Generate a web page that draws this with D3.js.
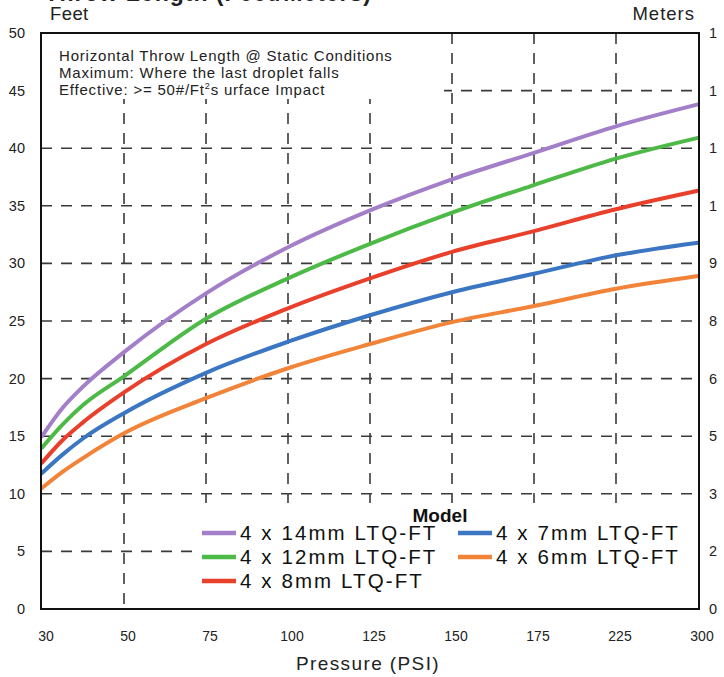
<!DOCTYPE html>
<html>
<head>
<meta charset="utf-8">
<script src="https://cdn.jsdelivr.net/npm/d3@7"></script>
<style>
body { margin: 0; background: #fff; }
svg { font-family: "Liberation Sans", Arial, sans-serif; }
</style>
</head>
<body>
<div id="chart"></div>
<script>
// pressure ticks (PSI) shown on the bottom axis, equally spaced
const psiTicks = [30, 50, 75, 100, 125, 150, 175, 225, 300]
const feetTicks = [0, 5, 10, 15, 20, 25, 30, 35, 40, 45, 50]
const meterLabels = ["0", "2", "3", "5", "6", "8", "9", "11", "12", "14", "15"]

// throw length in feet, read at these pressures
const psi = [30, 35, 40, 50, 75, 100, 125, 150, 175, 225, 300]
const ft14mm = [15.0, 17.45, 19.3, 22.3, 27.4, 31.4, 34.6, 37.3, 39.6, 41.9, 43.8]
const ft12mm = [14.0, 16.0, 17.7, 20.2, 25.2, 28.7, 31.7, 34.4, 36.8, 39.1, 40.9]
const ft8mm = [12.7, 14.65, 16.2, 18.8, 23.0, 26.1, 28.7, 31.0, 32.8, 34.7, 36.3]
const ft7mm = [11.8, 13.4, 14.8, 17.0, 20.5, 23.2, 25.5, 27.5, 29.1, 30.7, 31.8]
const ft6mm = [10.5, 11.9, 13.1, 15.25, 18.3, 20.9, 23.0, 24.9, 26.3, 27.8, 28.9]

const seriesNames = ["4 x 14mm LTQ-FT", "4 x 12mm LTQ-FT", "4 x 8mm LTQ-FT", "4 x 7mm LTQ-FT", "4 x 6mm LTQ-FT"]
const seriesValues = [ft14mm, ft12mm, ft8mm, ft7mm, ft6mm]
const seriesColors = ["#a27fc8", "#4dba47", "#e8402b", "#3b76c3", "#f2843a"]

const W = 724, H = 677
const pLeft = 41, pRight = 699, pTop = 33, pBottom = 609

const svg = d3.select("#chart").append("svg")
	.attr("width", W)
	.attr("height", H)

const step = (pRight - 1 - (pLeft + 1)) / (psiTicks.length - 1)
const x = d3.scaleLinear()
	.domain(psiTicks)
	.range(psiTicks.map((d, i) => pLeft + 1 + i * step))

const y = d3.scaleLinear()
	.domain([0, 50])
	.range([pBottom, pTop])

svg.append("clipPath").attr("id", "plot")
	.append("rect")
	.attr("x", pLeft).attr("y", pTop)
	.attr("width", pRight - pLeft).attr("height", pBottom - pTop)

svg.append("clipPath").attr("id", "page")
	.append("rect")
	.attr("x", 0).attr("y", 0)
	.attr("width", 717).attr("height", H)

// grid
const grid = svg.append("g")
	.attr("stroke", "#3a3a3a")
	.attr("stroke-width", 1.6)
	.attr("stroke-dasharray", "11,9")

grid.selectAll(".hgrid")
	.data(feetTicks.filter(d => d > 0 && d < 50))
	.join("line")
	.attr("class", "hgrid")
	.attr("x1", pLeft).attr("x2", pRight)
	.attr("y1", d => y(d)).attr("y2", d => y(d))

grid.selectAll(".vgrid")
	.data(psiTicks.filter(d => d > 30 && d < 300))
	.join("line")
	.attr("class", "vgrid")
	.attr("x1", d => x(d)).attr("x2", d => x(d))
	.attr("y1", pTop).attr("y2", pBottom)

// white boxes behind the note and the legend
svg.append("rect")
	.attr("x", pLeft + 1).attr("y", pTop + 1)
	.attr("width", 402).attr("height", 65)
	.attr("fill", "#fff")

svg.append("rect")
	.attr("x", 195).attr("y", 503)
	.attr("width", pRight - 196).attr("height", pBottom - 504)
	.attr("fill", "#fff")

// curves
const line = d3.line()
	.x((d, i) => x(psi[i]))
	.y(d => y(d))
	.curve(d3.curveMonotoneX)

svg.append("g")
	.attr("clip-path", "url(#plot)")
	.selectAll("path")
	.data(seriesValues)
	.join("path")
	.attr("fill", "none")
	.attr("stroke", (d, i) => seriesColors[i])
	.attr("stroke-width", 4)
	.attr("stroke-linecap", "round")
	.attr("d", line)

// frame
svg.append("rect")
	.attr("x", pLeft).attr("y", pTop)
	.attr("width", pRight - pLeft).attr("height", pBottom - pTop)
	.attr("fill", "none")
	.attr("stroke", "#111")
	.attr("stroke-width", 2)

// axes labels
svg.append("g").selectAll("text")
	.data(feetTicks)
	.join("text")
	.attr("x", 25)
	.attr("y", d => y(d))
	.attr("dy", "0.35em")
	.attr("text-anchor", "end")
	.attr("font-size", 14.5)
	.attr("fill", "#222")
	.text(d => d)

svg.append("g")
	.attr("clip-path", "url(#page)")
	.selectAll("text")
	.data(feetTicks)
	.join("text")
	.attr("x", 709)
	.attr("y", d => y(d))
	.attr("dy", "0.35em")
	.attr("font-size", 14.5)
	.attr("fill", "#222")
	.text((d, i) => meterLabels[i])

svg.append("g").selectAll("text")
	.data(psiTicks)
	.join("text")
	.attr("x", d => x(d) + 4)
	.attr("y", 641)
	.attr("text-anchor", "middle")
	.attr("font-size", 14)
	.attr("fill", "#222")
	.text(d => d)

svg.append("text")
	.attr("x", 368).attr("y", 670)
	.attr("text-anchor", "middle")
	.attr("font-size", 19)
	.attr("letter-spacing", 1.4)
	.attr("fill", "#222")
	.text("Pressure (PSI)")

svg.append("text")
	.attr("x", 50).attr("y", 20)
	.attr("font-size", 18.5)
	.attr("letter-spacing", 0.4)
	.attr("fill", "#222")
	.text("Feet")

svg.append("text")
	.attr("x", 695).attr("y", 20)
	.attr("text-anchor", "end")
	.attr("font-size", 18.5)
	.attr("letter-spacing", 1)
	.attr("fill", "#222")
	.text("Meters")

// title, cut off by the top edge
svg.append("text")
	.attr("x", 372).attr("y", 1)
	.attr("text-anchor", "end")
	.attr("font-size", 23)
	.attr("font-weight", "bold")
	.attr("letter-spacing", 1)
	.attr("fill", "#222")
	.text("Throw Length (Feet/Meters)")

// note
const note = svg.append("text")
	.attr("x", 59)
	.attr("font-size", 15)
	.attr("letter-spacing", 0.8)
	.attr("fill", "#222")
note.append("tspan").attr("x", 59).attr("y", 61).text("Horizontal Throw Length @ Static Conditions")
note.append("tspan").attr("x", 59).attr("y", 78).text("Maximum: Where the last droplet falls")
const l3 = note.append("tspan").attr("x", 59).attr("y", 95)
l3.append("tspan").text("Effective: >= 50#/Ft")
l3.append("tspan").attr("font-size", 9).attr("dy", -6).text("2")
l3.append("tspan").attr("dy", 6).text("s urface Impact")

// legend
svg.append("text")
	.attr("x", 440).attr("y", 522)
	.attr("text-anchor", "middle")
	.attr("font-size", 19)
	.attr("font-weight", "bold")
	.attr("fill", "#111")
	.text("Model")

const legendCol = [0, 0, 0, 1, 1]
const legendRow = [0, 1, 2, 0, 1]

const item = svg.append("g").selectAll("g")
	.data(seriesNames)
	.join("g")
	.attr("transform", (d, i) => `translate(${legendCol[i] ? 458 : 202},${533 + legendRow[i] * 24})`)

item.append("line")
	.attr("x1", 0).attr("x2", 34)
	.attr("stroke", (d, i) => seriesColors[i])
	.attr("stroke-width", 4.5)

item.append("text")
	.attr("x", 38)
	.attr("dy", "0.36em")
	.attr("font-size", 20.5)
	.attr("letter-spacing", 2.1)
	.attr("fill", "#111")
	.text(d => d)
</script>
</body>
</html>
